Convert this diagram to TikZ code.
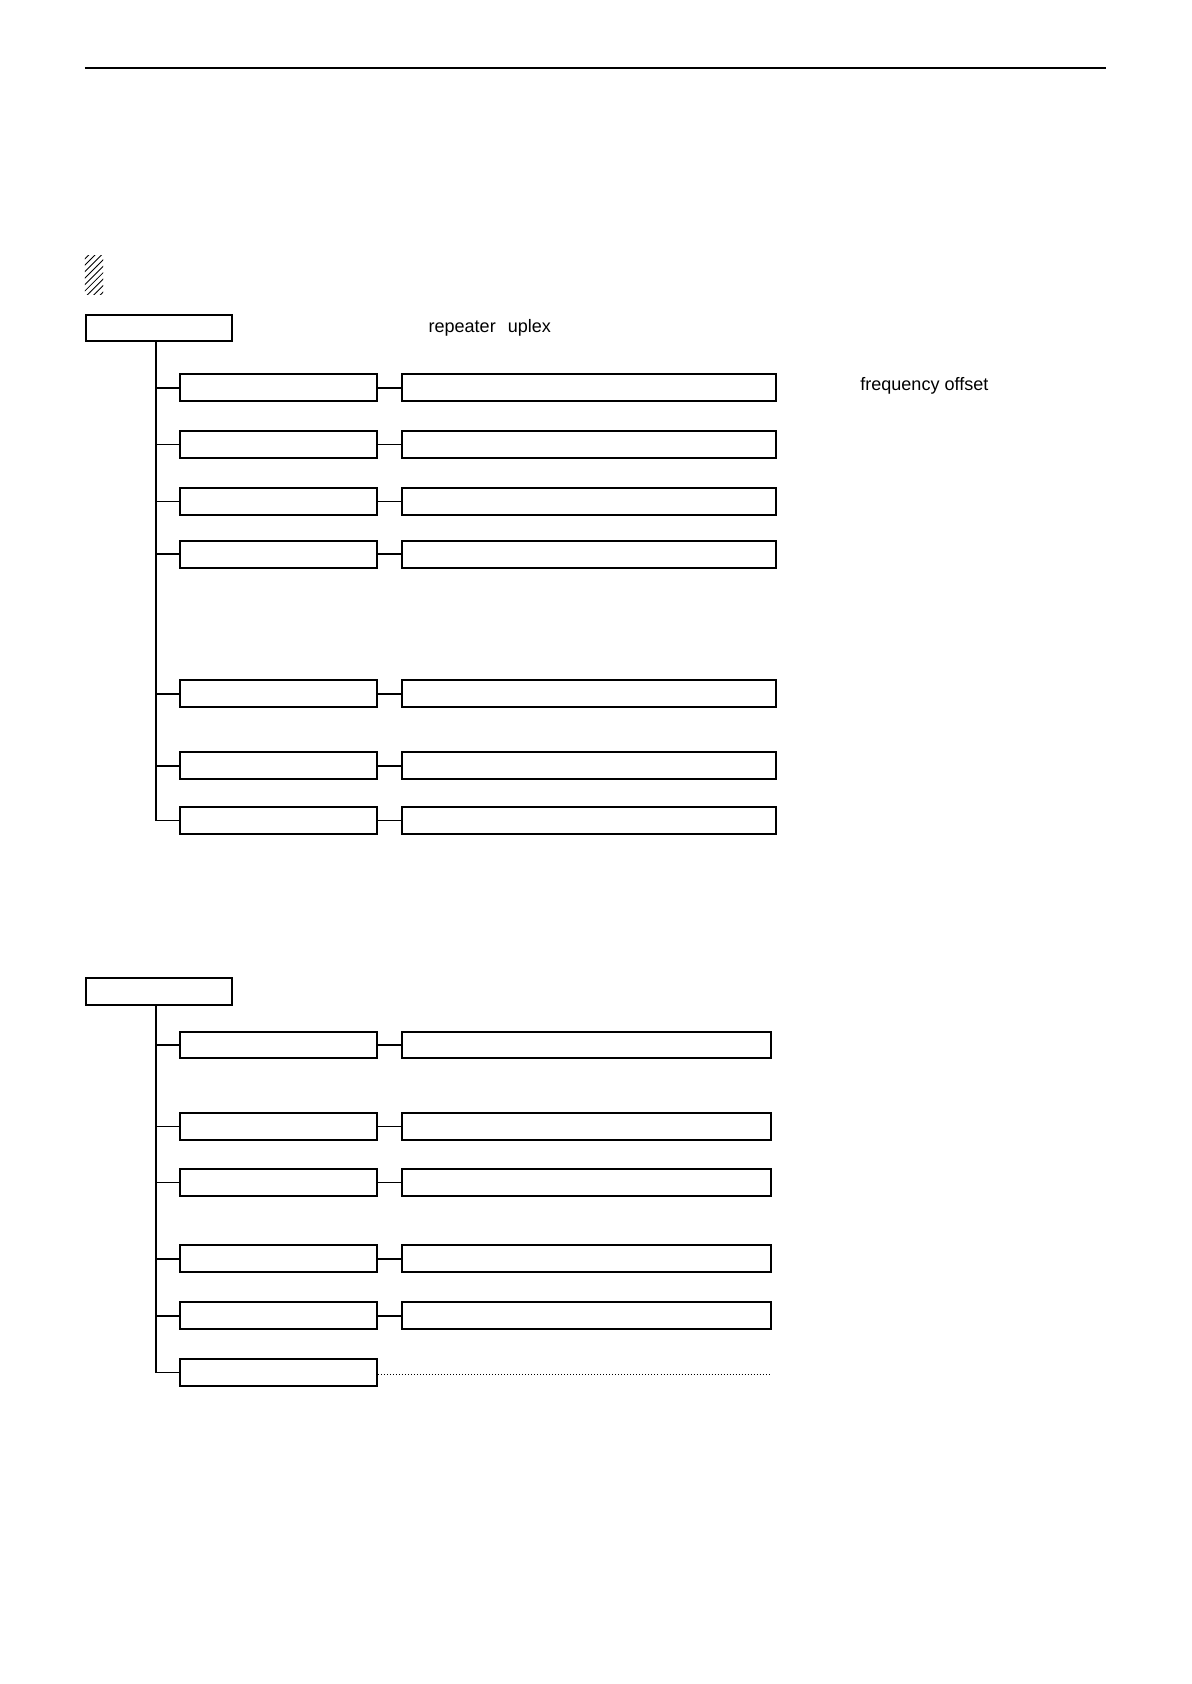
\documentclass[tikz,border=0pt]{standalone}
\usepackage{fontspec}
\setmainfont{Liberation Sans}
\usetikzlibrary{patterns}
\tikzset{
  menubox/.style={draw,line width=0.9pt,minimum height=12.5pt,inner sep=0pt},
  leftbox/.style={menubox,minimum width=91.5pt},
  rightbox/.style={menubox,minimum width=174.5pt},
  rightboxb/.style={menubox,minimum width=172pt},
  link/.style={line width=0.8pt},
}
\begin{document}
\begin{tikzpicture}[x=0.5pt,y=-0.5pt,font=\fontsize{8.4}{10}\selectfont]
      \useasboundingbox (0,0) rectangle (1109,1568);
      \draw[line width=0.8pt] (79,63) -- (1030,63);
      \fill[pattern=north east lines] (79,238) rectangle (96,274);
      % first menu
      \node[menubox,minimum width=68pt,anchor=north west] (top1) at (79,292) {};
      \node[anchor=west] (rep) at (392,305) {repeater\enspace\,uplex};
      \node[anchor=west] (fo) at (794,359) {frequency offset};
      \foreach \y [count=\i] in {361,414,467,516,646,713,764} {
        \node[leftbox,anchor=west] (a\i) at (167,\y) {};
        \node[rightbox,anchor=west] (b\i) at (373,\y) {};
        \draw[link] (145,\y) -- (a\i.west);
        \draw[link] (a\i.east) -- (b\i.west);
      }
      \draw[link] (top1.south -| 145,0) -- (145,764);
      % second menu
      \node[menubox,minimum width=68pt,anchor=north west] (top2) at (79,910) {};
      \foreach \y [count=\i] in {973,1049,1101,1172,1225} {
        \node[leftbox,anchor=west] (c\i) at (167,\y) {};
        \node[rightboxb,anchor=west] (d\i) at (373,\y) {};
        \draw[link] (145,\y) -- (c\i.west);
        \draw[link] (c\i.east) -- (d\i.west);
      }
      \node[leftbox,anchor=west] (c6) at (167,1278) {};
      \draw[link] (145,1278) -- (c6.west);
      \draw[densely dotted,thin] (c6.east |- 0,1280) -- (718,1280);
      \draw[link] (top2.south -| 145,0) -- (145,1278);
\end{tikzpicture}
\end{document}
